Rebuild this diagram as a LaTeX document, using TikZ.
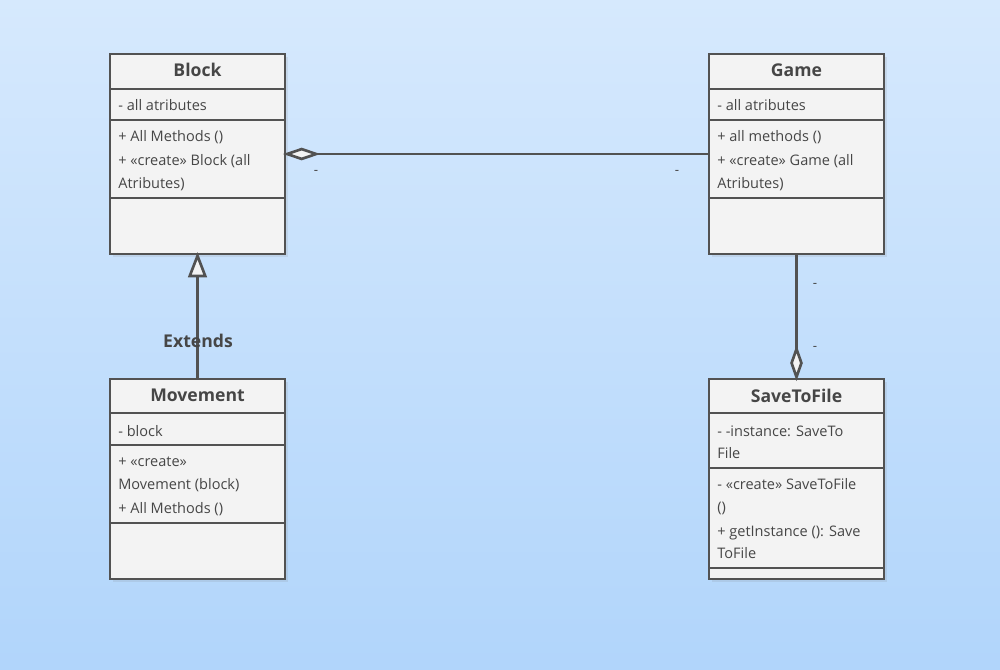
\documentclass[tikz,border=0pt]{standalone}
\usepackage{fontspec}
\setmainfont{Open Sans}
\usetikzlibrary{arrows.meta,shadows}
\definecolor{linegray}{RGB}{82,82,82}
\definecolor{boxgray}{RGB}{243,243,243}
\definecolor{textgray}{RGB}{70,70,70}
\definecolor{skytop}{RGB}{214,233,253}
\definecolor{skybottom}{RGB}{177,213,251}

\tikzset{every picture/.style={line width=2pt}}
\tikzset{
  classbox/.style={draw=linegray, fill=boxgray, minimum width=131.25pt, minimum height=150pt, inner sep=0pt,
    drop shadow={shadow xshift=2.5pt, shadow yshift=-2.5pt, opacity=0.15}},
  classname/.style={inner sep=0pt, anchor=base, text=textgray, font=\bfseries\fontsize{13.2}{15}\selectfont},
  member/.style={inner sep=0pt, anchor=base west, text=textgray, font=\fontsize{10.9}{13}\selectfont},
  tag/.style={inner sep=0pt, text=textgray, font=\fontsize{10}{12}\selectfont},
  rel/.style={draw=linegray, line width=2pt, shorten >=-2.5pt},
}

\begin{document}
\begin{tikzpicture}[x=0.75pt,y=0.75pt,yscale=-1,xscale=1]
	\useasboundingbox (0,0) rectangle (1000,669);
	%Background
	\shade [top color=skytop, bottom color=skybottom] (0,0) rectangle (1000,669);

	%Class: Block
	\node [classbox] (block) at (197.5,154) {};
	\draw [linegray] (110,89) -- (285,89) ;
	\draw [linegray] (110,120) -- (285,120) ;
	\draw [linegray] (110,198) -- (285,198) ;
	\node [classname] (blockname) at (197.5,76.5) {Block};
	\node [member] (blockattr) at (117,110.5) {- all atributes};
	\node [member] (blockopa) at (117,141.5) {+ All Methods ()};
	\node [member] (blockopb) at (117,165.5) {+ «create» Block (all};
	\node [member] (blockopc) at (117,188.5) {Atributes)};

	%Class: Game
	\node [classbox] (game) at (796.5,154) {};
	\draw [linegray] (709,89) -- (884,89) ;
	\draw [linegray] (709,120) -- (884,120) ;
	\draw [linegray] (709,198) -- (884,198) ;
	\node [classname] (gamename) at (796.5,76.5) {Game};
	\node [member] (gameattr) at (716,110.5) {- all atributes};
	\node [member] (gameopa) at (716,141.5) {+ all methods ()};
	\node [member] (gameopb) at (716,165.5) {+ «create» Game (all};
	\node [member] (gameopc) at (716,188.5) {Atributes)};

	%Class: Movement
	\node [classbox] (movement) at (197.5,479) {};
	\draw [linegray] (110,413) -- (285,413) ;
	\draw [linegray] (110,445) -- (285,445) ;
	\draw [linegray] (110,523) -- (285,523) ;
	\node [classname] (movename) at (197.5,401.5) {Movement};
	\node [member] (moveattr) at (117,436) {- block};
	\node [member] (moveopa) at (117,466.5) {+ «create»};
	\node [member] (moveopb) at (117,489.5) {Movement (block)};
	\node [member] (moveopc) at (117,513) {+ All Methods ()};

	%Class: SaveToFile
	\node [classbox] (savefile) at (796.5,479) {};
	\draw [linegray] (709,413) -- (884,413) ;
	\draw [linegray] (709,468) -- (884,468) ;
	\draw [linegray] (709,568) -- (884,568) ;
	\node [classname] (savename) at (796.5,402) {SaveToFile};
	\node [member] (saveattra) at (716,436) {- -instance: SaveTo};
	\node [member] (saveattrb) at (716,458) {File};
	\node [member] (saveopa) at (716,489.5) {- «create» SaveToFile};
	\node [member] (saveopb) at (716,512) {()};
	\node [member] (saveopc) at (716,536) {+ getInstance (): Save};
	\node [member] (saveopd) at (716,558) {ToFile};

	%Aggregation: Game - Block
	\draw [rel, -{Diamond[length=28pt, width=9.5pt, fill=boxgray, line width=2pt]}] (game.west) -- (block.east) ;
	\node [tag] (tagblock) at (316,172) {-};
	\node [tag] (taggame) at (677,172) {-};
	%Aggregation: Game - SaveToFile
	\draw [rel, -{Diamond[length=27pt, width=9.5pt, fill=boxgray, line width=2pt]}] (game.south) -- (savefile.north) ;
	\node [tag] (taggamelow) at (815,285) {-};
	\node [tag] (tagsave) at (815,348) {-};
	%Generalization: Movement - Block
	\draw [rel, -{Triangle[length=19pt, width=14pt, fill=boxgray, line width=2pt]}] (movement.north) -- (block.south) ;
	\node [classname] (extends) at (198,347.5) {Extends};

\end{tikzpicture}
\end{document}
